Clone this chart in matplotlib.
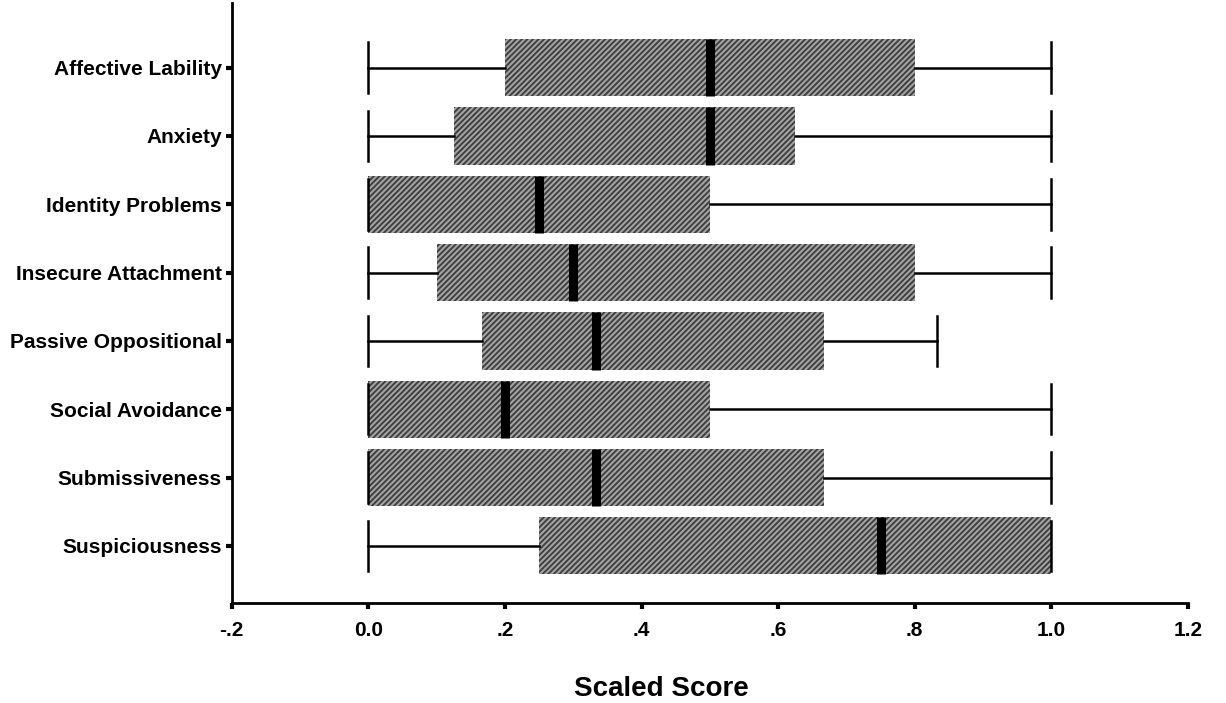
import matplotlib
matplotlib.use("Agg")
import matplotlib.pyplot as plt

# --- DATOS ---
categorias = ["Affective Lability", "Anxiety", "Identity Problems", "Insecure Attachment",
              "Passive Oppositional", "Social Avoidance", "Submissiveness", "Suspiciousness"]
minimos = [0.0, 0.0, 0.0, 0.0, 0.0, 0.0, 0.0, 0.0]
q1 = [0.2, 0.125, 0.0, 0.1, 0.167, 0.0, 0.0, 0.25]
medianas = [0.5, 0.5, 0.25, 0.3, 0.333, 0.2, 0.333, 0.75]
q3 = [0.8, 0.625, 0.5, 0.8, 0.667, 0.5, 0.667, 1.0]
maximos = [1.0, 1.0, 1.0, 1.0, 0.833, 1.0, 1.0, 1.0]
ticks_x = [-0.2, 0.0, 0.2, 0.4, 0.6, 0.8, 1.0, 1.2]
etiquetas_x = ["-.2", "0.0", ".2", ".4", ".6", ".8", "1.0", "1.2"]

plt.rcParams['font.family'] = ['Liberation Sans', 'DejaVu Sans']
plt.rcParams['hatch.linewidth'] = 1.3

fig = plt.figure(figsize=(12.26, 7.03), dpi=100)
ax = fig.add_axes([0.189, 0.142, 0.78, 0.854])

# Estadisticas para bxp
stats = []
for i in range(len(categorias)):
    stats.append({"whislo": minimos[i], "q1": q1[i], "med": medianas[i],
                  "q3": q3[i], "whishi": maximos[i], "label": categorias[i]})

posiciones = list(range(1, len(categorias) + 1))
bp = ax.bxp(stats, positions=posiciones, vert=False, widths=0.84, patch_artist=True,
            showfliers=False, capwidths=0.74,
            boxprops=dict(facecolor="#a2a2a2", edgecolor="#3c3c3c", linewidth=0, hatch="//////"),
            medianprops=dict(color="black", linewidth=6.5, solid_capstyle="butt"),
            whiskerprops=dict(color="black", linewidth=1.8),
            capprops=dict(color="black", linewidth=1.8))

# Ejes
ax.set_xlim(-0.2, 1.2)
ax.set_ylim(8.84, 0.05)
ax.set_xticks(ticks_x)
ax.set_xticklabels(etiquetas_x, fontsize=15, fontweight="bold")
ax.set_yticks(posiciones)
ax.set_yticklabels(categorias, fontsize=15, fontweight="bold")
ax.tick_params(axis="both", direction="out", length=4, width=3)
ax.tick_params(axis="x", pad=9)
ax.tick_params(axis="y", pad=3)
for lado in ["top", "right"]:
    ax.spines[lado].set_visible(False)
for lado in ["left", "bottom"]:
    ax.spines[lado].set_linewidth(2)
ax.set_xlabel("Scaled Score", fontsize=20, fontweight="bold")
ax.xaxis.set_label_coords(0.449, -0.122)

fig.savefig("out.png", dpi=100)
